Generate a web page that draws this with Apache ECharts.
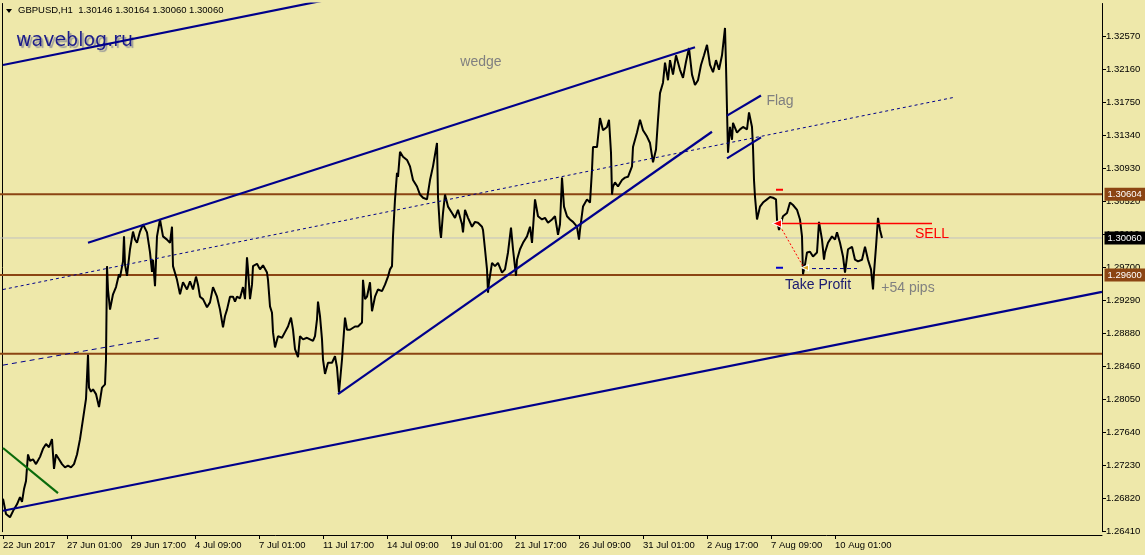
<!DOCTYPE html>
<html><head><meta charset="utf-8">
<script src="https://cdn.jsdelivr.net/npm/echarts@6/dist/echarts.min.js"></script>
<style>html,body{margin:0;padding:0;background:#EEE8AA}#c{width:1145px;height:555px}</style>
</head><body><div id="c"></div>
<script>
// ---- data ----
const dateLabels = ['22 Jun 2017','27 Jun 01:00','29 Jun 17:00','4 Jul 09:00','7 Jul 01:00','11 Jul 17:00','14 Jul 09:00','19 Jul 01:00','21 Jul 17:00','26 Jul 09:00','31 Jul 01:00','2 Aug 17:00','7 Aug 09:00','10 Aug 01:00'];
const priceLabels = ['1.26410','1.26820','1.27230','1.27640','1.28050','1.28460','1.28880','1.29290','1.29700','1.30110','1.30520','1.30930','1.31340','1.31750','1.32160','1.32570'];
const firstBar = 3, barsPerLabel = 64, lastSlot = 1102;
const yBottom = 1.26410, yTopTick = 1.32570, yTop = 1.32974;

const barIdx = [3,6,10,14,17,20,22,24,26,28,30,33,36,40,43,46,49,52,54,56,59,62,65,68,71,74,77,80,83,86,88,89,91,93,96,99,102,105,106,107,108,110,113,116,119,
120,123,124,125,127,130,133,135,137,140,143,147,150,152,153,155,157,160,163,167,170,172,173,177,180,183,187,190,193,196,198,200,203,207,210,213,217,220,223,225,227,230,
233,235,237,240,243,245,247,248,250,252,253,257,260,263,267,268,270,272,273,275,278,282,285,288,291,293,295,298,300,303,307,310,313,315,317,318,320,322,323,325,328,332,335,337,339,
342,345,347,350,352,355,358,362,363,365,367,370,372,375,378,382,385,388,390,392,393,395,397,398,400,403,407,410,413,417,420,423,427,430,433,437,438,440,441,443,
445,448,452,455,458,462,463,465,468,472,475,478,482,483,485,487,488,489,492,495,498,502,505,508,511,513,516,517,520,523,527,530,532,535,538,542,545,548,552,555,558,
560,562,564,567,570,573,577,579,580,583,587,590,592,593,597,600,603,607,609,611,612,613,615,618,622,625,628,632,633,637,640,643,647,650,653,656,658,660,663,665,668,
670,673,676,680,683,686,689,692,695,698,701,704,707,710,713,716,719,722,725,726,727,728,
730,732,733,737,740,743,747,749,752,753,754,755,757,760,763,767,770,773,776,777,779,781,783,787,790,793,797,800,802,803,805,807,810,813,817,819,822,824,825,828,832,835,837,840,843,845,848,852,855,858,862,865,868,871,873,874,876,878,880,882];

const prices = [1.2682,1.2663,1.2659,1.2669,1.2675,1.2684,1.2678,1.2694,1.2704,1.2737,1.2729,1.2731,1.2725,1.2734,1.2744,1.2750,1.2746,1.2756,1.2719,1.2737,1.2731,1.2725,1.2721,1.2723,1.2721,1.2725,1.2737,1.2756,1.2781,1.2806,1.2861,1.2820,1.2815,1.2818,1.2812,1.2796,1.2820,1.2824,1.2855,1.2971,1.2942,1.2917,1.2936,1.2945,1.2961,
1.2957,1.2977,1.3008,1.2973,1.2959,1.2992,1.3014,1.3004,1.3000,1.3014,1.3023,1.3013,1.2988,1.2964,1.2979,1.2946,1.3008,1.3029,1.3008,1.3004,1.3000,1.3020,1.2971,1.2954,1.2936,1.2951,1.2942,1.2952,1.2942,1.2958,1.2948,1.2933,1.2930,1.2920,1.2926,1.2945,1.2933,1.2917,1.2895,1.2909,1.2917,1.2933,
1.2933,1.2927,1.2933,1.2931,1.2945,1.2930,1.2982,1.2967,1.2930,1.2948,1.2971,1.2974,1.2967,1.2972,1.2963,1.2954,1.2921,1.2913,1.2889,1.2870,1.2884,1.2882,1.2889,1.2896,1.2907,1.2892,1.2868,1.2858,1.2884,1.2880,1.2882,1.2880,1.2878,1.2884,1.2905,1.2927,1.2909,1.2880,1.2855,1.2837,1.2851,1.2851,1.2859,1.2845,1.2814,
1.2855,1.2907,1.2892,1.2892,1.2890,1.2896,1.2896,1.2901,1.2954,1.2930,1.2933,1.2951,1.2915,1.2933,1.2942,1.2940,1.2948,1.2958,1.2967,1.2971,1.3008,1.3054,1.3087,1.3082,1.3113,1.3107,1.3103,1.3095,1.3078,1.3070,1.3060,1.3056,1.3054,1.3078,1.3095,1.3124,1.3057,1.3016,1.3006,1.3037,
1.3060,1.3045,1.3037,1.3031,1.3041,1.3023,1.3013,1.3041,1.3031,1.3020,1.3026,1.3025,1.3020,1.3016,1.2992,1.2967,1.2938,1.2951,1.2975,1.2971,1.2975,1.2963,1.2967,1.2988,1.3019,1.2992,1.2959,1.2979,1.2992,1.3000,1.3008,1.3020,1.3000,1.3054,1.3033,1.3029,1.3031,1.3025,1.3029,1.3033,1.3010,
1.3023,1.3081,1.3045,1.3033,1.3029,1.3026,1.3020,1.3004,1.3016,1.3045,1.3054,1.3050,1.3091,1.3119,1.3119,1.3155,1.3140,1.3144,1.3153,1.3112,1.3060,1.3070,1.3075,1.3070,1.3078,1.3081,1.3082,1.3095,1.3119,1.3137,1.3153,1.3140,1.3132,1.3124,1.3100,1.3116,1.3153,1.3186,1.3199,1.3224,1.3202,
1.3227,1.3209,1.3233,1.3215,1.3205,1.3225,1.3242,1.3209,1.3196,1.3202,1.3221,1.3233,1.3246,1.3221,1.3212,1.3227,1.3215,1.3233,1.3267,1.3221,1.3165,1.3112,
1.3144,1.3128,1.3149,1.3137,1.3141,1.3144,1.3141,1.3162,1.3144,1.3119,1.3078,1.3057,1.3029,1.3045,1.3050,1.3054,1.3057,1.3056,1.3054,1.3029,1.3016,1.3025,1.3033,1.3037,1.3050,1.3047,1.3041,1.3029,1.3008,1.2961,1.2973,1.2988,1.2989,1.2983,1.2988,1.3026,1.3004,1.2979,1.2988,1.3000,1.3008,1.3004,1.3013,1.3000,1.2983,1.2963,1.2992,1.2995,1.2979,1.2977,1.2979,1.2995,1.2979,1.2967,1.2942,1.2963,1.2995,1.3031,1.3016,1.3006];

// trendlines [bar1, price1, bar2, price2]
const navyLines = [[3,1.3221,323,1.3301],[88,1.3000,695,1.3243],[338,1.2812,712,1.3138],[3,1.2667,1102,1.2939],[727,1.3158,761,1.3183],[727,1.3105,761,1.3131]];
const dottedLine = [3,1.2942,955,1.3181];
const dashedLine = [3,1.2848,160,1.2882];
const greenLine = [3,1.2745,58,1.2689];
const sellLine = [777,1.3024,932,1.3024];
const sellPath = [780,1.3021,803,1.2971];
const tpLine = [805,1.2968,857,1.2968];
const slMark = [776,1.3066,783,1.3066];
const tpMark = [776,1.2969,783,1.2969];
const sellArrow = [777,1.3024];
const tpArrow = [805,1.2969];

const levels = [1.30604, 1.29600, 1.2862];
const levelTags = ['1.30604','1.29600',''];
const bidPrice = 1.30060;
const bidTag = '1.30060';

const notes = ['wedge','Flag','SELL','Take Profit','+54 pips'];
const noteBar = [481,780,932,818,908];
const notePrice = [1.3225,1.3176,1.3011,1.2947,1.2944];

const header = 'GBPUSD,H1  1.30146 1.30164 1.30060 1.30060';
const watermark = 'waveblog.ru';

// ---- chart ----
const slots = Array.from({length: lastSlot + 1}, (_, i) => String(i));
const isLabelSlot = i => i >= firstBar && (i - firstBar) % barsPerLabel === 0 && (i - firstBar) / barsPerLabel < dateLabels.length;
const yStep = (yTopTick - yBottom) / (priceLabels.length - 1);
const FONT = 'Liberation Sans, Arial, sans-serif';

function seg(c, color, width, type, z) {
  return {type:'line', data:[[c[0],c[1]],[c[2],c[3]]], symbol:'none', silent:true, animation:false,
    lineStyle:{color:color, width:width, type:type||'solid'}, z:z||4};
}
function tag(price, text, bg) {
  return {type:'scatter', silent:true, animation:false, z:20, zlevel:1, symbolSize:1, clip:false,
    itemStyle:{color:'rgba(0,0,0,0)', opacity:1},
    data:[{value:[lastSlot, price], label:{show:true, position:'right', distance:2, formatter:text,
      color:'#fff', backgroundColor:bg, padding:[2,5,1,3], fontSize:9.5, fontFamily:FONT}}]};
}

const series = [];
levels.forEach(v => series.push(seg([0, v, lastSlot, v], '#8B4513', 2, 'solid', 2)));
series.push(seg([0, bidPrice, lastSlot, bidPrice], '#C0C0C0', 1, 'solid', 2));
series.push({
  type:'line', data: barIdx.map((b,i)=>[b, prices[i]]), symbol:'none', animation:false, z:3,
  lineStyle:{color:'#000', width:2}
});
navyLines.forEach(l => series.push(seg(l, '#00008B', 2.2, 'solid', 4)));
series.push(seg(dottedLine, '#00008B', 1, [3,3], 4));
series.push(seg(dashedLine, '#00008B', 1, [5,4], 4));
series.push(seg(greenLine, '#0B6B0B', 2.2, 'solid', 4));
series.push(seg(sellLine, '#FF0000', 1.6, 'solid', 5));
series.push(seg(sellPath, '#FF0000', 1, [2,2], 5));
series.push(seg(tpLine, '#00008B', 1, [4,3], 5));
series.push(seg(slMark, '#FF0000', 2, 'solid', 5));
series.push(seg(tpMark, '#0000CD', 2, 'solid', 5));
series.push({type:'scatter', silent:true, animation:false, z:6, symbol:'triangle', symbolRotate:90, symbolSize:[8,9],
  data:[sellArrow], itemStyle:{color:'#FF0000', borderColor:'#fff', borderWidth:1, opacity:1}});
series.push({type:'scatter', silent:true, animation:false, z:6, symbol:'triangle', symbolRotate:90, symbolSize:[6,7],
  data:[tpArrow], itemStyle:{color:'#DAA520', borderColor:'#fff', borderWidth:1, opacity:1}});
const noteColors = ['#808080','#808080','#FF0000','#191970','#808080'];
series.push({type:'scatter', silent:true, animation:false, z:7, symbolSize:1, itemStyle:{color:'rgba(0,0,0,0)', opacity:1},
  data: notes.map((t,i)=>({value:[noteBar[i], notePrice[i]], name:t,
    label:{show:true, position:'inside', formatter:t, color:noteColors[i], fontSize:14, fontFamily:FONT}}))});
levels.forEach((v,i) => { if (levelTags[i]) series.push(tag(v, levelTags[i], '#8B4513')); });
series.push(tag(bidPrice, bidTag, '#000'));

const chart = echarts.init(document.getElementById('c'), null, {renderer:'canvas'});
chart.setOption({
  backgroundColor:'#EEE8AA',
  animation:false,
  grid:{left:0, right:43, top:3.5, bottom:23.3},
  xAxis:{
    type:'category', data:slots, boundaryGap:false, offset:3.3,
    axisLine:{show:true, lineStyle:{color:'#000', width:1}},
    axisTick:{show:true, interval:(i)=>isLabelSlot(i), length:4, inside:false, lineStyle:{color:'#000'}},
    axisLabel:{show:true, interval:(i)=>isLabelSlot(i), align:'left', margin:5, color:'#000', fontSize:9.5, fontFamily:FONT,
      formatter:(v, i)=> isLabelSlot(i) ? dateLabels[(i-firstBar)/barsPerLabel] : ''},
    splitLine:{show:false}
  },
  yAxis:[{
    type:'value', position:'right', min:yBottom, max:yTop, interval:yStep,
    axisLine:{show:true, lineStyle:{color:'#000', width:1}},
    axisTick:{show:true, length:4, inside:false, lineStyle:{color:'#000'}},
    axisLabel:{show:true, margin:4, color:'#000', fontSize:9.5, fontFamily:FONT, showMaxLabel:false,
      formatter:v=>{ const k = Math.round((v - yBottom) / yStep); return (k >= 0 && k < priceLabels.length && Math.abs(v - (yBottom + k*yStep)) < yStep/10) ? priceLabels[k] : ''; }},
    splitLine:{show:false}
  },{
    type:'value', position:'left', min:yBottom, max:yTop, offset:-2,
    axisLine:{show:true, lineStyle:{color:'#000', width:1}},
    axisTick:{show:false}, axisLabel:{show:false}, splitLine:{show:false}
  }],
  graphic:[
    {type:'polygon', shape:{points:[[6,9],[12,9],[9,13]]}, style:{fill:'#000'}},
    {type:'text', left:18, top:5, style:{text:header, font:'9.5px '+FONT, fill:'#000'}},
    {type:'text', left:16, top:32, style:{text:watermark, font:'19px DejaVu Sans', fill:'#1c1c8a',
      textShadowColor:'#9a9a9a', textShadowOffsetX:2, textShadowOffsetY:2, textShadowBlur:1}}
  ],
  series: series
});
</script></body></html>
